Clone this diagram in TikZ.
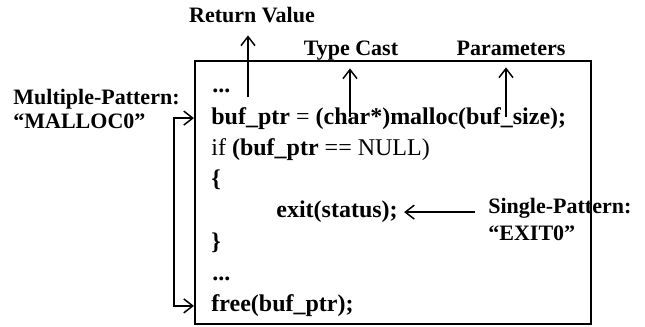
\documentclass[tikz,border=0pt]{standalone}
\usepackage{fontspec}
\setmainfont{Liberation Serif}
\usetikzlibrary{arrows.meta}
\tikzset{codeline/.style = {font = \bfseries\fontsize{12}{14}\selectfont, inner sep = 0, anchor = base west}}
\tikzset{tag/.style = {font = \bfseries\fontsize{11}{13}\selectfont, inner sep = 0, text depth = 0pt}}
\tikzset{codebox/.style = {draw, line width = 0.9pt, inner sep = 0, minimum width = 198pt,
                           minimum height = 131.5pt, anchor = north west}}
\tikzset{arr/.style = {-{Straight Barb[length = 4.5pt, width = 7pt]}, line width = 0.75pt}}
\tikzset{biarr/.style = {{Straight Barb[length = 4.5pt, width = 7pt]}-{Straight Barb[length = 4.5pt, width = 7pt]},
                         line width = 0.75pt}}

\begin{document}
\begin{tikzpicture}[x = 0.5pt, y = -0.5pt]
    \useasboundingbox (0, 0) rectangle (645, 327);
    \node [codebox] (box) at (194, 60) {};

    \node [codeline] (l0) at (212, 92.7) {...};
    \node [codeline] (l1) at (211, 124) {buf\_ptr {\mdseries =} (char*)malloc(buf\_size);};
    \node [codeline] (l2) at (211, 155.3) {{\mdseries if} (buf\_ptr {\mdseries == NULL)}};
    \node [codeline] (l3) at (211, 186.6) {\{};
    \node [codeline] (l4) at (276, 217.9) {exit(status);};
    \node [codeline] (l5) at (211, 249.2) {\}};
    \node [codeline] (l6) at (212, 280.5) {...};
    \node [codeline] (l7) at (211, 311.8) {free(buf\_ptr);};

    \node [tag, anchor = base] (rv) at (252, 22) {Return Value};
    \node [tag, anchor = base] (tc) at (351, 55) {Type Cast};
    \node [tag, anchor = base] (pm) at (511, 55) {Parameters};
    \node [tag, anchor = base west] (mp) at (13, 104) {Multiple-Pattern:};
    \node [tag, anchor = base west] (mc) at (13, 128) {“MALLOC0”};
    \node [tag, anchor = base west] (sp) at (488, 213) {Single-Pattern:};
    \node [tag, anchor = base west] (sx) at (488, 240) {“EXIT0”};

    \coordinate (rvtail) at (248, 97);
    \coordinate (tctail) at (350, 117);
    \coordinate (pmtail) at (506, 117);
    \draw [arr, shorten >= 6.5pt] (rvtail) -- (rvtail |- rv.south);
    \draw [arr, shorten >= 6.5pt] (tctail) -- (tctail |- tc.south);
    \draw [arr, shorten >= 6pt] (pmtail) -- (pmtail |- pm.south);

    \draw [arr, shorten <= 6.5pt, shorten >= 3pt] (sp.west |- l4) -- (l4.east);
    \draw [biarr] (box.west |- l1) -- ++(-20, 0) |- (box.west |- l7);
  \end{tikzpicture}
\end{document}
